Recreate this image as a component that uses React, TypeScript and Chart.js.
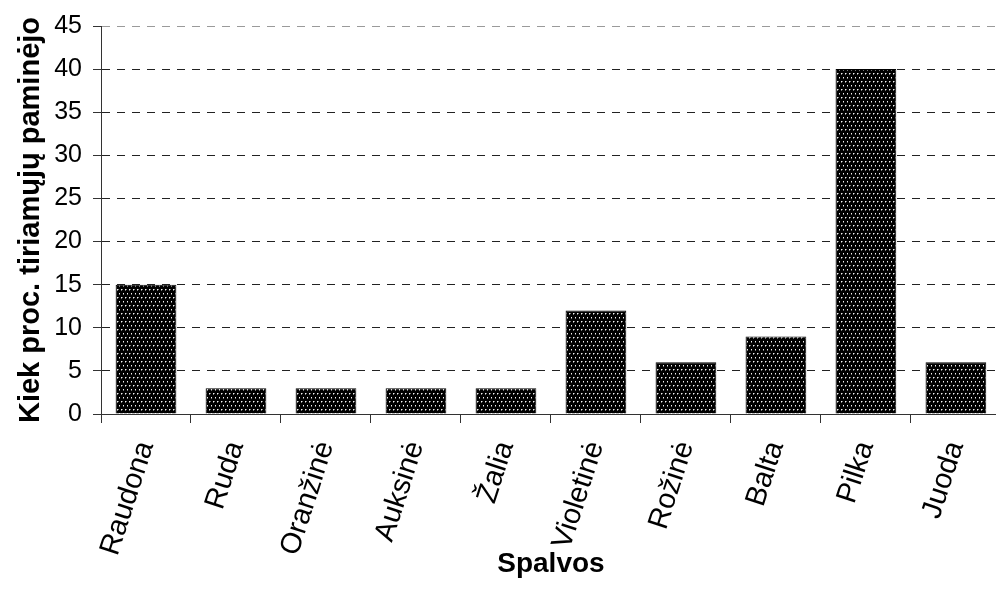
import React, { useEffect, useRef } from "react";
import { Chart, registerables } from "chart.js";

Chart.register(...registerables);

const categories = ["Raudona", "Ruda", "Oranžinė", "Auksinė", "Žalia", "Violetinė", "Rožinė", "Balta", "Pilka", "Juoda"];
const values = [15, 3, 3, 3, 3, 12, 6, 9, 40, 6];
const yTitle = "Kiek proc. tiriamųjų paminėjo";
const xTitle = "Spalvos";
const yMin = 0;
const yMax = 45;
const yStep = 5;

function makePattern(): CanvasPattern | string {
  const c = document.createElement("canvas");
  c.width = 4;
  c.height = 8;
  const g = c.getContext("2d");
  if (!g) return "#000";
  g.fillStyle = "#000";
  g.fillRect(0, 0, 4, 8);
  const dot = (x: number, y: number) => {
    g.fillStyle = "#f2f2f2";
    g.fillRect(x, y, 1, 1);
    g.fillStyle = "#777";
    g.fillRect(x + 1, y, 1, 1);
    g.fillRect(x, y + 1, 1, 1);
  };
  dot(1, 1);
  dot(3, 5);
  const p = g.createPattern(c, "repeat");
  return p || "#000";
}

export default function App() {
  const ref = useRef<HTMLCanvasElement | null>(null);
  useEffect(() => {
    document.body.style.margin = "0";
    document.body.style.overflow = "hidden";
    const canvas = ref.current;
    if (!canvas) return;
    const pattern = makePattern();
    const chart = new Chart(canvas, {
      type: "bar",
      data: {
        labels: categories,
        datasets: [
          {
            data: values,
            backgroundColor: pattern as any,
            borderColor: "#000",
            borderWidth: 1,
            barPercentage: 0.675,
            categoryPercentage: 1,
          },
        ],
      },
      options: {
        responsive: false,
        animation: false,
        layout: { padding: { top: 23, right: 0, left: 0, bottom: 0 } },
        plugins: { legend: { display: false }, tooltip: { enabled: false } },
        scales: {
          x: {
            grid: {
              drawOnChartArea: false,
              drawTicks: true,
              tickLength: 9,
              tickColor: "#333",
              offset: true,
            },
            border: { color: "#333", width: 1 },
            ticks: {
              color: "#000",
              font: { family: "'Liberation Sans', Arial, sans-serif", size: 29 },
              minRotation: 72,
              maxRotation: 72,
              autoSkip: false,
              padding: 14,
            },
            title: {
              display: true,
              text: xTitle,
              color: "#000",
              font: { family: "'Liberation Sans', Arial, sans-serif", size: 28, weight: "bold" },
              padding: { top: 0, bottom: 22 },
            },
            afterFit: (scale: any) => {
              scale.height = 189;
            },
          },
          y: {
            min: yMin,
            max: yMax,
            ticks: {
              stepSize: yStep,
              color: "#000",
              font: { family: "'Liberation Sans', Arial, sans-serif", size: 25 },
              padding: 11,
            },
            grid: {
              color: (ctx: any) => (ctx.tick && ctx.tick.value === yMax ? "#9a9a9a" : ctx.tick && ctx.tick.value === 0 ? "rgba(0,0,0,0)" : "#222"),
              tickColor: "#333",
              tickLength: 8,
              lineWidth: 1,
            },
            border: { color: "#333", width: 1, dash: [8, 7] },
            title: {
              display: true,
              text: yTitle,
              color: "#000",
              font: { family: "'Liberation Sans', Arial, sans-serif", size: 29, weight: "bold" },
              padding: { top: 14, bottom: 0 },
            },
            afterFit: (scale: any) => {
              scale.width = 101;
            },
          },
        },
      },
    });
    return () => chart.destroy();
  }, []);
  return (
    <div style={{ position: "fixed", left: 0, top: 0, width: 1003, height: 603, background: "#fff" }}>
      <canvas ref={ref} width={1003} height={603} style={{ display: "block" }} />
    </div>
  );
}
